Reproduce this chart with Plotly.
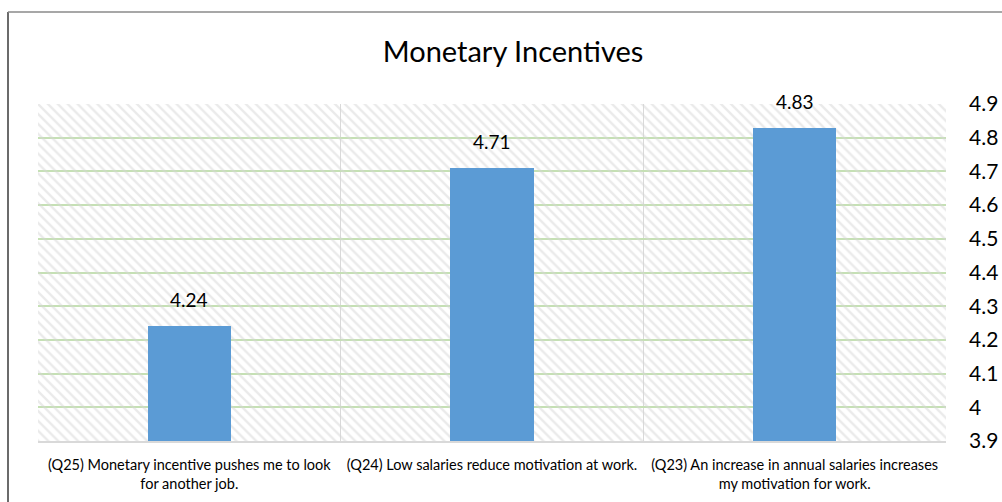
import plotly.graph_objects as go

categories = [
    "(Q25) Monetary incentive pushes me to look<br>for another job.",
    "(Q24) Low salaries reduce motivation at work.",
    "(Q23) An increase in annual salaries increases<br>my motivation for work.",
]
values = [4.24, 4.71, 4.83]
y_min, y_max = 3.9, 4.9
tick_vals = [3.9, 4.0, 4.1, 4.2, 4.3, 4.4, 4.5, 4.6, 4.7, 4.8, 4.9]
tick_text = ["3.9", "4", "4.1", "4.2", "4.3", "4.4", "4.5", "4.6", "4.7", "4.8", "4.9"]

FONT = "Lato, Carlito, 'Open Sans', sans-serif"

fig = go.Figure()

# hatched plot-area background
fig.add_trace(go.Bar(
    x=categories,
    y=[y_max - y_min] * len(categories),
    base=[y_min] * len(categories),
    width=1,
    marker=dict(
        color="rgba(0,0,0,0)",
        line=dict(width=0),
        pattern=dict(shape="\\", fgcolor="#d6d6d6", bgcolor="rgba(0,0,0,0)",
                     size=7, solidity=0.35, fillmode="overlay"),
    ),
    hoverinfo="skip",
    showlegend=False,
))

fig.add_trace(go.Bar(
    x=categories,
    y=[v - y_min for v in values],
    base=[y_min] * len(values),
    width=0.275,
    marker=dict(color="#5b9bd5", line=dict(width=0)),
    showlegend=False,
))

annotations = [
    dict(x=c, y=v, xref="x", yref="y", text=f"{v:.2f}", showarrow=False,
         yanchor="bottom", yshift=13,
         font=dict(size=19, color="#000000", family=FONT))
    for c, v in zip(categories, values)
]

fig.update_layout(
    width=1002, height=502,
    margin=dict(l=38, r=56, t=104, b=61),
    paper_bgcolor="white",
    plot_bgcolor="white",
    barmode="overlay",
    title=dict(text="Monetary Incentives", x=0.512, xanchor="center",
               y=0.896, yanchor="middle",
               font=dict(size=29, color="#000000", family=FONT)),
    font=dict(family=FONT, color="#000000"),
    annotations=annotations,
    xaxis=dict(
        automargin=False,
        showgrid=True, gridcolor="#d9d9d9", gridwidth=1,
        tickson="boundaries", ticks="", showline=True, linecolor="#d9d9d9",
        linewidth=1.5, mirror=False,
        tickangle=0,
        ticklabelstandoff=10,
        tickfont=dict(size=14.5, color="#000000", family=FONT),
    ),
    yaxis=dict(
        automargin=False,
        range=[y_min, y_max], side="right", tickvals=tick_vals, ticktext=tick_text,
        showgrid=True, gridcolor="#c5e0b4", gridwidth=1.5,
        zeroline=False, showline=False, ticks="",
        ticklabelstandoff=22,
        tickfont=dict(size=21, color="#000000", family=FONT),
    ),
    shapes=[
        dict(type="line", xref="paper", yref="paper",
             x0=(8 - 38) / 908, x1=(8 - 38) / 908, y0=-2, y1=(441 - 12) / 337,
             line=dict(color="#3a3a3a", width=1.5)),
        dict(type="line", xref="paper", yref="paper",
             x0=(8 - 38) / 908, x1=1.2, y0=(441 - 12) / 337, y1=(441 - 12) / 337,
             line=dict(color="#8a8a8a", width=1.5)),
    ],
    bargap=0,
)

fig.write_html("out.html")
